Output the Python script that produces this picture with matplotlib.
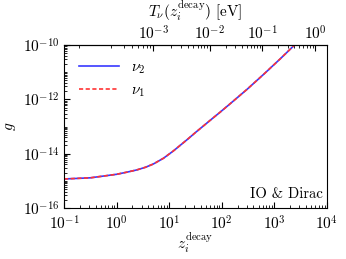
import matplotlib
matplotlib.use('Agg')
import matplotlib.pyplot as plt
import numpy as np
from matplotlib.ticker import LogLocator, NullFormatter

plt.rcParams['mathtext.fontset'] = 'cm'
plt.rcParams['font.family'] = ['cmr10']
plt.rcParams['axes.formatter.use_mathtext'] = True
plt.rcParams['axes.unicode_minus'] = False

# values (log-log)
z_decay = [0.1, 0.316, 1.0, 1.58, 2.4, 3.55, 5.0, 7.76, 12.0, 15.8, 21.4, 31.6, 44.7,
           67.6, 93.3, 144.5, 302.0, 631.0, 1288.0, 2239.0, 3981.0]
g_nu2 = [1.17e-15, 1.29e-15, 1.74e-15, 2.09e-15, 2.51e-15, 3.16e-15, 4.17e-15, 6.76e-15,
         1.26e-14, 1.95e-14, 3.16e-14, 6.03e-14, 1.05e-13,
         2.04e-13, 3.39e-13, 6.92e-13, 2.34e-12, 8.51e-12, 3.09e-11, 8.71e-11, 2.57e-10]
g_nu1 = list(g_nu2)

T0 = 1.68e-4  # eV, neutrino temperature today


def z_to_T(z):
    return T0 * (1 + np.asarray(z))


def T_to_z(T):
    return np.asarray(T) / T0 - 1


fig = plt.figure(figsize=(3.46, 2.59), dpi=100)
ax = fig.add_axes([0.185, 0.197, 0.76, 0.629])

ax.plot(z_decay, g_nu2, color='#3838ff', lw=1.2, label=r'$\nu_2$')
ax.plot(z_decay, g_nu1, color='#ff3333', lw=1.2, ls='--', dashes=(2.5, 1.5), label=r'$\nu_1$')

ax.set_xscale('log')
ax.set_yscale('log')
ax.set_xlim(0.1, 1e4)
ax.set_ylim(1e-16, 1e-10)
ax.set_yticks([1e-16, 1e-14, 1e-12, 1e-10])
ax.set_yticklabels([r'$10^{-16}$', r'$10^{-14}$', r'$10^{-12}$', r'$10^{-10}$'])
ax.set_xticks([0.1, 1, 10, 100, 1000, 10000])
ax.set_xticklabels([r'$10^{-1}$', r'$10^{0}$', r'$10^{1}$', r'$10^{2}$', r'$10^{3}$', r'$10^{4}$'])
ax.yaxis.set_minor_locator(LogLocator(base=10, subs=np.arange(1, 10), numticks=30))
ax.yaxis.set_minor_formatter(NullFormatter())
ax.xaxis.set_minor_locator(LogLocator(base=10, subs=np.arange(2, 10), numticks=30))
ax.xaxis.set_minor_formatter(NullFormatter())

ax.tick_params(which='both', direction='in', top=False, right=False, labelsize=11)
ax.tick_params(which='major', length=4)
ax.tick_params(which='minor', length=2)
ax.tick_params(axis='x', pad=4.5)
ax.tick_params(axis='y', pad=3)

ax.set_xlabel(r'$z_i^{\mathrm{decay}}$', fontsize=11, labelpad=-1)
ax.set_ylabel(r'$g$', fontsize=11, labelpad=4)

sec = ax.secondary_xaxis('top', functions=(z_to_T, T_to_z))
sec.set_xticks([1e-3, 1e-2, 1e-1, 1e0])
sec.set_xticklabels([r'$10^{-3}$', r'$10^{-2}$', r'$10^{-1}$', r'$10^{0}$'])
sec.xaxis.set_minor_locator(LogLocator(base=10, subs=np.arange(2, 10), numticks=30))
sec.xaxis.set_minor_formatter(NullFormatter())
sec.tick_params(which='both', direction='in', labelsize=11, pad=2)
sec.tick_params(which='major', length=4)
sec.tick_params(which='minor', length=2)
sec.set_xlabel(r'$T_\nu(z_i^{\mathrm{decay}})\ [\mathrm{eV}]$', fontsize=11, labelpad=5)

ax.legend(loc='upper left', frameon=False, fontsize=11, handlelength=2.6,
          borderaxespad=0.6, labelspacing=0.5)

ax.text(0.985, 0.04, 'IO & Dirac', transform=ax.transAxes,
        ha='right', va='bottom', fontsize=10.5, family='cmr10')

fig.savefig('out.png', dpi=100)
